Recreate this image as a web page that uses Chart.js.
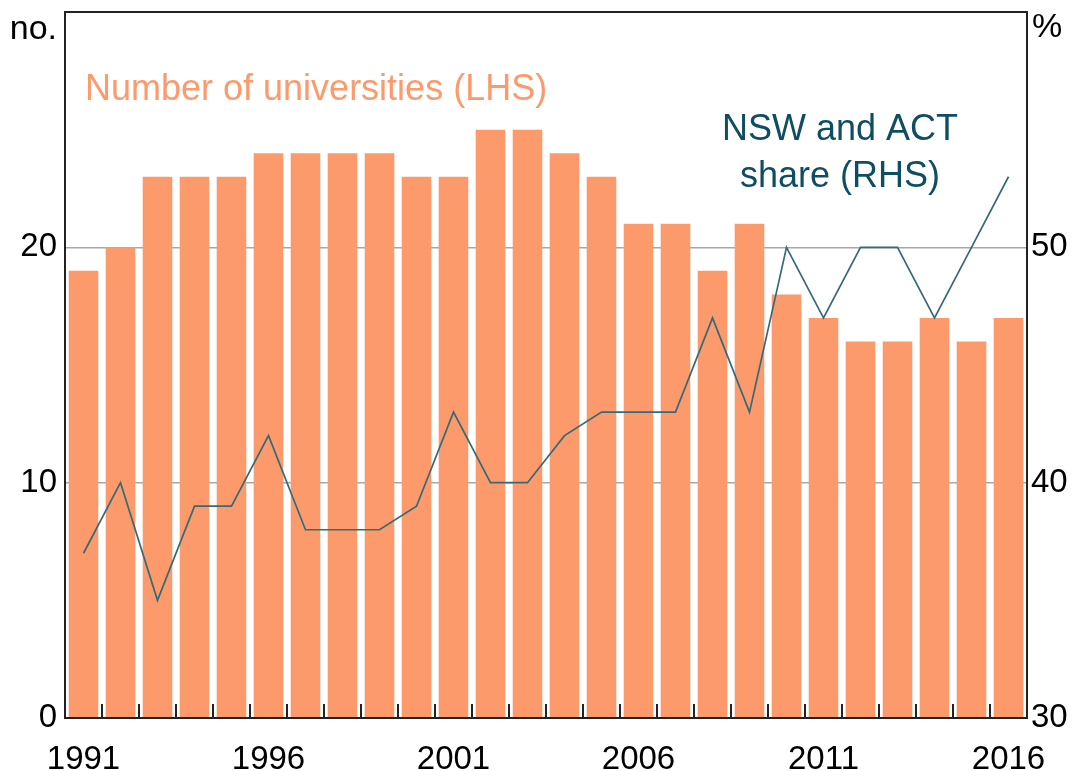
<!DOCTYPE html>
<html>
<head>
<meta charset="utf-8">
<script src="https://cdn.jsdelivr.net/npm/chart.js@4/dist/chart.umd.min.js"></script>
<style>
  body { margin: 0; background: #fff; }
  canvas { display: block; }
</style>
</head>
<body>
<canvas id="chart" width="1072" height="771"></canvas>
<script>
const years = ["1991", "1992", "1993", "1994", "1995", "1996", "1997", "1998", "1999", "2000",
  "2001", "2002", "2003", "2004", "2005", "2006", "2007", "2008", "2009", "2010",
  "2011", "2012", "2013", "2014", "2015", "2016"]
const universities = [19, 20, 23, 23, 23, 24, 24, 24, 24, 23, 23, 25, 25, 24, 23, 21, 21, 19, 21, 18, 17, 16, 16, 17, 16, 17]
const nswActShare = [37, 40, 35, 39, 39, 42, 38, 38, 38, 39, 43, 40, 40, 42, 43, 43, 43, 47, 43, 50, 47, 50, 50, 47, 50, 53]
const shownYears = ["1991", "1996", "2001", "2006", "2011", "2016"]

const FONT = "'Liberation Sans', Arial, sans-serif"
const barColor = "#fc9a6c"
const lineColor = "#356a78"
const textBlue = "#0e4d62"

// frame, inward x ticks, unit labels and series notes
const decorations = {
  id: "decorations",
  afterDatasetsDraw(chart) {
    const { ctx, chartArea: a, scales } = chart
    ctx.save()
    ctx.strokeStyle = "#222"
    ctx.lineWidth = 2
    const x = scales.x
    const half = (x.getPixelForValue(1) - x.getPixelForValue(0)) / 2
    ctx.beginPath()
    for (let i = 1; i < years.length; i++) {
      const px = Math.round(x.getPixelForValue(i) - half)
      ctx.moveTo(px, a.bottom)
      ctx.lineTo(px, a.bottom - 14)
    }
    ctx.stroke()
    ctx.strokeRect(a.left, a.top, a.right - a.left, a.bottom - a.top)

    ctx.font = "34px " + FONT
    ctx.fillStyle = "#000"
    ctx.textBaseline = "middle"
    ctx.textAlign = "right"
    ctx.fillText("no.", a.left - 8, 30)
    ctx.textAlign = "left"
    ctx.fillText("%", a.right + 5, 28)

    ctx.font = "36px " + FONT
    ctx.fillStyle = barColor
    ctx.fillText("Number of universities (LHS)", 85, 90)
    ctx.fillStyle = textBlue
    ctx.textAlign = "center"
    ctx.fillText("NSW and ACT", 840, 130)
    ctx.fillText("share (RHS)", 840, 177)
    ctx.restore()
  }
}

const noTopPad = s => { s.paddingTop = 0 }

new Chart(document.getElementById("chart"), {
  data: {
    labels: years,
    datasets: [
      {
        type: "line",
        label: "NSW and ACT share (RHS)",
        data: nswActShare,
        yAxisID: "y1",
        borderColor: lineColor,
        borderWidth: 1.7,
        pointRadius: 0,
        tension: 0,
        order: 0
      },
      {
        type: "bar",
        label: "Number of universities (LHS)",
        data: universities,
        yAxisID: "y",
        backgroundColor: barColor,
        barPercentage: 0.8,
        categoryPercentage: 1,
        order: 1
      }
    ]
  },
  options: {
    responsive: false,
    animation: false,
    layout: { padding: { top: 12, left: 0, right: 0, bottom: 0 } },
    plugins: { legend: { display: false }, tooltip: { enabled: false } },
    scales: {
      x: {
        offset: true,
        grid: { display: false, drawTicks: false },
        border: { display: false },
        afterFit: s => { s.height = 53 },
        ticks: {
          autoSkip: false,
          maxRotation: 0,
          padding: 22,
          color: "#000",
          font: { family: FONT, size: 33 },
          callback: function (v) {
            const l = this.getLabelForValue(v)
            return shownYears.includes(l) ? l : ""
          }
        }
      },
      y: {
        position: "left",
        min: 0,
        max: 30,
        afterFit: s => { s.width = 65; noTopPad(s) },
        border: { display: false },
        grid: {
          drawTicks: false,
          lineWidth: 1.5,
          color: c => (c.tick.value === 10 || c.tick.value === 20) ? "#a8a8a8" : "rgba(0,0,0,0)"
        },
        ticks: {
          stepSize: 10,
          padding: 8,
          color: "#000",
          font: { family: FONT, size: 33 },
          callback: v => v === 30 ? "" : v
        }
      },
      y1: {
        position: "right",
        min: 30,
        max: 60,
        afterFit: s => { s.width = 45; noTopPad(s) },
        border: { display: false },
        grid: { drawOnChartArea: false, drawTicks: false },
        ticks: {
          stepSize: 10,
          padding: 4,
          color: "#000",
          font: { family: FONT, size: 33 },
          callback: v => v === 60 ? "" : v
        }
      }
    }
  },
  plugins: [decorations]
})
</script>
</body>
</html>
